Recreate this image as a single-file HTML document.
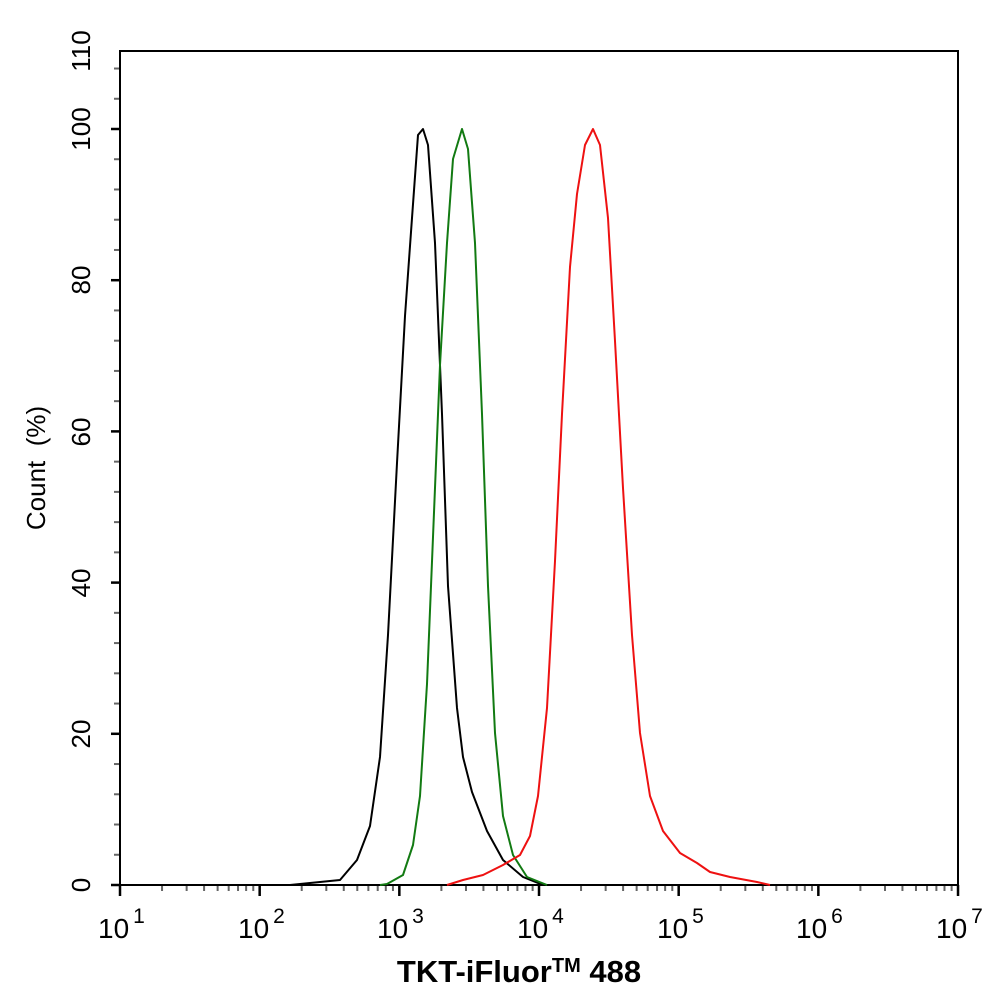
<!DOCTYPE html>
<html><head><meta charset="utf-8"><style>
html,body{margin:0;padding:0;background:#fff;}
svg{display:block;font-family:"Liberation Sans",Arial,sans-serif;}
</style></head><body>
<svg width="994" height="1002" viewBox="0 0 994 1002" xmlns="http://www.w3.org/2000/svg">
<rect width="994" height="1002" fill="#fff"/>
<g id="ticks"></g>
<rect x="120" y="51" width="838" height="834" fill="none" stroke="#000" stroke-width="2"/>
<g fill="none" stroke-width="2" stroke-linejoin="round">
<polyline stroke="#000" points="290,885 340,880 357,860 370,826 380,757 388,635 397,463 405,316 412,218 418,135 423,129 428,145 435,243 442,414 448,586 457,708 463,757 472,792 487,831 503,860 523,877 543,885"/>
<polyline stroke="#127a12" points="380,885 387,884 403,875 413,845 420,796 427,684 433,537 440,365 447,243 453,159 462,129 468,149 475,243 482,414 488,586 495,733 503,816 513,855 527,877 547,885"/>
<polyline stroke="#ee1111" points="447,885 463,880 483,875 503,865 520,855 530,836 538,796 547,708 555,561 562,414 570,267 577,194 585,145 593,129 600,145 608,218 615,341 623,488 632,635 640,733 650,796 663,831 680,853 697,863 710,872 730,877 757,882 770,885"/>
</g>
<g font-size="26" fill="#000" text-anchor="middle">
<text transform="translate(90,885) rotate(-90)">0</text>
<text transform="translate(90,734) rotate(-90)">20</text>
<text transform="translate(90,583) rotate(-90)">40</text>
<text transform="translate(90,432) rotate(-90)">60</text>
<text transform="translate(90,129) rotate(-90)">100</text>
<text transform="translate(90,280) rotate(-90)">80</text>
<text transform="translate(90,51) rotate(-90)">110</text>
<text transform="translate(45,468) rotate(-90)" xml:space="preserve">Count  (%)</text>
</g>
<g font-size="28" fill="#000">
<text x="98" y="938">10<tspan dx="4" dy="-15" font-size="21">1</tspan></text>
<text x="238" y="938">10<tspan dx="4" dy="-15" font-size="21">2</tspan></text>
<text x="377" y="938">10<tspan dx="4" dy="-15" font-size="21">3</tspan></text>
<text x="517" y="938">10<tspan dx="4" dy="-15" font-size="21">4</tspan></text>
<text x="657" y="938">10<tspan dx="4" dy="-15" font-size="21">5</tspan></text>
<text x="796" y="938">10<tspan dx="4" dy="-15" font-size="21">6</tspan></text>
<text x="936" y="938">10<tspan dx="4" dy="-15" font-size="21">7</tspan></text>
</g>
<text x="519" y="982" font-size="31" font-weight="bold" text-anchor="middle">TKT-iFluor<tspan font-size="20" dy="-10">TM</tspan><tspan dy="10"> 488</tspan></text>
<script>
var ns="http://www.w3.org/2000/svg",g=document.getElementById("ticks");
function ln(x1,y1,x2,y2,c,w){var l=document.createElementNS(ns,"line");l.setAttribute("x1",x1);l.setAttribute("y1",y1);l.setAttribute("x2",x2);l.setAttribute("y2",y2);l.setAttribute("stroke",c);l.setAttribute("stroke-width",w);g.appendChild(l);}
var d=139.67;
for(var i=0;i<=6;i++){var x=120+i*d;ln(x,885,x,896,"#000",2.5);
 if(i<6)for(var k=2;k<10;k++){var xx=x+Math.log10(k)*d;ln(xx,885,xx,891,"#666",2);}}
for(var v=0;v<=108;v+=4){var y=885-v*7.56;if(v%20==0)ln(111,y,120,y,"#000",2.5);else ln(114,y,120,y,"#666",2);}
</script>
</svg>
</body></html>
